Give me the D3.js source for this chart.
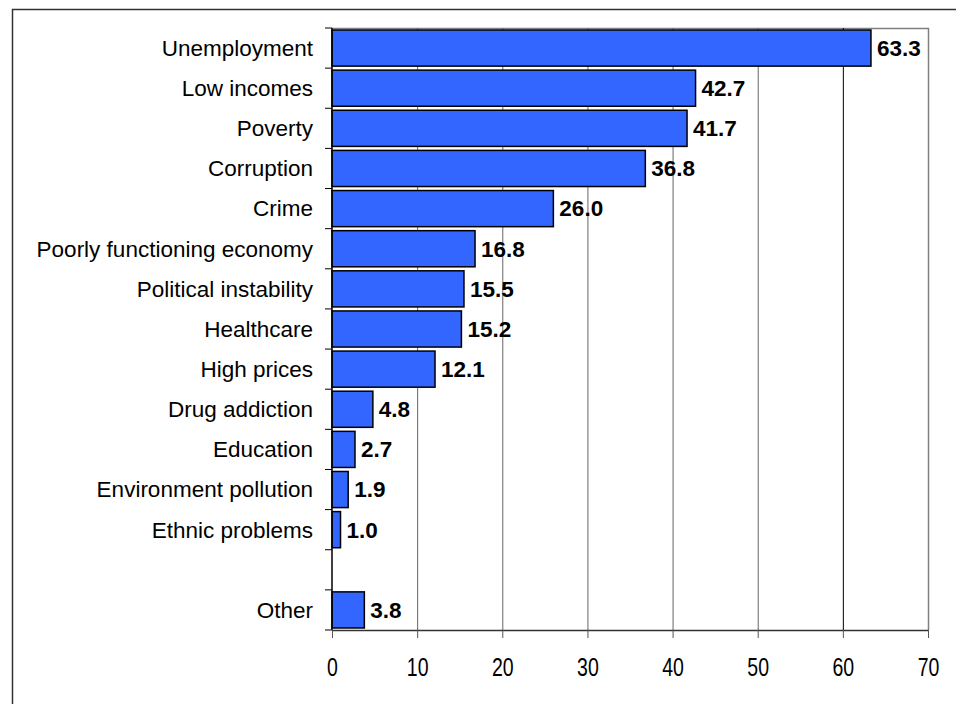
<!DOCTYPE html>
<html>
<head>
<meta charset="utf-8">
<script src="https://cdn.jsdelivr.net/npm/d3@7"></script>
<style>
  body { margin: 0; background: #fff; }
  svg { display: block; font-family: "Liberation Sans", Arial, sans-serif; }
</style>
</head>
<body>
<div id="chart"></div>
<script>
// Categories top to bottom; the empty one is the gap before "Other"
const categories = ["Unemployment", "Low incomes", "Poverty", "Corruption", "Crime",
  "Poorly functioning economy", "Political instability", "Healthcare", "High prices",
  "Drug addiction", "Education", "Environment pollution", "Ethnic problems", "", "Other"];
const values = [63.3, 42.7, 41.7, 36.8, 26.0, 16.8, 15.5, 15.2, 12.1, 4.8, 2.7, 1.9, 1.0, null, 3.8];
const xTicks = [0, 10, 20, 30, 40, 50, 60, 70];

const width = 956, height = 704;
const margin = {top: 28, right: 28, bottom: 74, left: 332};

const svg = d3.select("#chart").append("svg")
  .attr("width", width)
  .attr("height", height);

// outer frame
svg.append("rect")
  .attr("x", 12.5).attr("y", 9.5)
  .attr("width", 960).attr("height", 720)
  .attr("fill", "none")
  .attr("stroke", "#333")
  .attr("stroke-width", 1.5);

const x = d3.scaleLinear().domain([0, 70]).range([margin.left, width - margin.right]);
const y = d3.scaleBand()
  .domain(d3.range(categories.length))
  .range([margin.top, height - margin.bottom])
  .paddingInner(0.1)
  .paddingOuter(0.05);

// plot area border (top & right)
svg.append("path")
  .attr("d", `M${x(0)},${margin.top + 0.5}H${x(70) + 0.5}V${height - margin.bottom}`)
  .attr("fill", "none")
  .attr("stroke", "#808080")
  .attr("stroke-width", 1.5);

// vertical gridlines
svg.append("g").selectAll("line")
  .data(xTicks.filter(d => d > 0 && d < 70))
  .enter().append("line")
  .attr("x1", d => x(d) + 0.5).attr("x2", d => x(d) + 0.5)
  .attr("y1", margin.top).attr("y2", height - margin.bottom)
  .attr("stroke", d => d === 60 ? "#000" : "#666")
  .attr("stroke-width", 1);

// bars
const rows = categories.map((c, i) => ({c, v: values[i], i}));
svg.append("g").selectAll("rect")
  .data(rows.filter(d => d.v != null))
  .enter().append("rect")
  .attr("x", x(0))
  .attr("y", d => y(d.i))
  .attr("width", d => x(d.v) - x(0))
  .attr("height", y.bandwidth())
  .attr("fill", "#3366ff")
  .attr("stroke", "#000")
  .attr("stroke-width", 1.5);

// value labels
svg.append("g").selectAll("text")
  .data(rows.filter(d => d.v != null))
  .enter().append("text")
  .attr("x", d => x(d.v) + 6)
  .attr("y", d => y(d.i) + y.bandwidth() / 2)
  .attr("dy", "0.35em")
  .attr("font-size", 22.5)
  .attr("font-weight", "bold")
  .text(d => d.v.toFixed(1));

// category labels
svg.append("g").selectAll("text")
  .data(rows)
  .enter().append("text")
  .attr("x", 313)
  .attr("y", d => y(d.i) + y.bandwidth() / 2)
  .attr("dy", "0.35em")
  .attr("text-anchor", "end")
  .attr("font-size", 22.5)
  .text(d => d.c);

// y axis line and ticks at band boundaries
const bounds = d3.range(categories.length + 1).map(i => margin.top + i * (height - margin.bottom - margin.top) / categories.length);
svg.append("line")
  .attr("x1", x(0)).attr("x2", x(0))
  .attr("y1", margin.top).attr("y2", height - margin.bottom)
  .attr("stroke", "#000").attr("stroke-width", 1.5);
svg.append("g").selectAll("line")
  .data(bounds)
  .enter().append("line")
  .attr("x1", x(0) - 7).attr("x2", x(0))
  .attr("y1", d => d).attr("y2", d => d)
  .attr("stroke", "#000").attr("stroke-width", 1);

// x axis
const xAxis = svg.append("g")
  .attr("transform", `translate(0,${height - margin.bottom})`)
  .call(d3.axisBottom(x).tickValues(xTicks).tickSize(8).tickPadding(20).tickSizeOuter(0));
xAxis.select(".domain").attr("stroke", "#333").attr("stroke-width", 1.5);
xAxis.selectAll(".tick line").attr("stroke", "#555");
xAxis.selectAll("text")
  .attr("font-size", 25)
  .attr("font-family", "'Liberation Sans', Arial, sans-serif")
  .attr("fill", "#000")
  .attr("transform", "scale(0.78,1)");
</script>
</body>
</html>
